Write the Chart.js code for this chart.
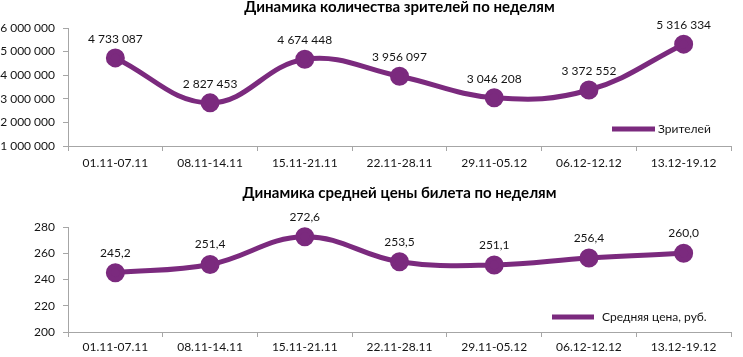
<!DOCTYPE html>
<html>
<head>
<meta charset="utf-8">
<script src="https://cdn.jsdelivr.net/npm/chart.js@4/dist/chart.umd.min.js"></script>
<style>
  html, body { margin: 0; padding: 0; background: #fff; }
  #wrap { position: relative; width: 743px; height: 357px; overflow: hidden; }
  .box { position: absolute; left: 0; width: 743px; }
  canvas { display: block; }
</style>
</head>
<body>
<div id="wrap">
  <div class="box" style="top:0;height:178px"><canvas id="c1" width="743" height="178"></canvas></div>
  <div class="box" style="top:178px;height:179px"><canvas id="c2" width="743" height="179"></canvas></div>
</div>
<script>
const categories = ['01.11-07.11', '08.11-14.11', '15.11-21.11', '22.11-28.11', '29.11-05.12', '06.12-12.12', '13.12-19.12'];
const viewers = [4733087, 2827453, 4674448, 3956097, 3046208, 3372552, 5316334];
const prices = [245.2, 251.4, 272.6, 253.5, 251.1, 256.4, 260.0];
const viewersTitle = 'Динамика количества зрителей по неделям';
const pricesTitle = 'Динамика средней цены билета по неделям';
const viewersLabel = 'Зрителей';
const pricesLabel = 'Средняя цена, руб.';

const PURPLE = '#7B2A7E';
const AXIS = '#A6A6A6';
const TEXT = '#141414';
const FONT = 'Lato, "Open Sans", "Liberation Sans", sans-serif';

Chart.defaults.font.family = FONT;
Chart.defaults.color = TEXT;

function fmtSpaces(v) {
  return Math.round(v).toString().replace(/\B(?=(\d{3})+(?!\d))/g, ' ');
}
function fmtComma(v) {
  return v.toFixed(1).replace('.', ',');
}

const valueLabels = {
  id: 'valueLabels',
  afterDatasetsDraw(chart, args, opts) {
    const ctx = chart.ctx;
    const meta = chart.getDatasetMeta(0);
    const data = chart.data.datasets[0].data;
    ctx.save();
    ctx.font = '12px ' + FONT;
    ctx.fillStyle = TEXT;
    ctx.textAlign = 'center';
    ctx.textBaseline = 'middle';
    meta.data.forEach((pt, i) => {
      ctx.fillText(opts.format(data[i]), pt.x, pt.y - opts.offset);
    });
    ctx.restore();
  }
};

const innerLegend = {
  id: 'innerLegend',
  afterDraw(chart, args, opts) {
    const ctx = chart.ctx;
    const ca = chart.chartArea;
    const ds = chart.data.datasets[0];
    const y = ca.bottom - opts.dy;
    ctx.save();
    ctx.strokeStyle = ds.borderColor;
    ctx.lineWidth = 5;
    ctx.beginPath();
    ctx.moveTo(ca.right - opts.x1, y);
    ctx.lineTo(ca.right - opts.x2, y);
    ctx.stroke();
    ctx.font = '12px ' + FONT;
    ctx.fillStyle = TEXT;
    ctx.textAlign = 'left';
    ctx.textBaseline = 'middle';
    ctx.fillText(ds.label, ca.right - opts.x2 + opts.gap, y);
    ctx.restore();
  }
};

function makeChart(id, cfg) {
  return new Chart(document.getElementById(id), {
    type: 'line',
    data: {
      labels: categories,
      datasets: [{
        label: cfg.label,
        data: cfg.data,
        borderColor: PURPLE,
        backgroundColor: PURPLE,
        pointBackgroundColor: PURPLE,
        pointBorderColor: PURPLE,
        borderWidth: 5,
        pointRadius: 7,
        pointHoverRadius: 7,
        tension: 0.4,
        fill: false,
        clip: false
      }]
    },
    options: {
      responsive: false,
      animation: false,
      devicePixelRatio: 1,
      layout: { padding: { left: 0, right: 5, top: 0, bottom: 0 } },
      plugins: {
        legend: { display: false },
        tooltip: { enabled: false },
        title: {
          display: true,
          text: cfg.title,
          fullSize: false,
          color: '#000',
          font: { size: 15, weight: 'bold', family: FONT, lineHeight: 1 },
          padding: cfg.titlePadding
        },
        valueLabels: { format: cfg.format, offset: cfg.labelOffset },
        innerLegend: cfg.legend
      },
      scales: {
        x: {
          offset: true,
          afterFit(scale) { scale.height = cfg.xHeight; },
          grid: {
            display: true,
            offset: true,
            drawOnChartArea: false,
            drawTicks: true,
            tickLength: 5,
            color: AXIS
          },
          border: { display: true, color: AXIS, width: 1 },
          ticks: {
            padding: cfg.xPad,
            font: { size: 12 },
            color: TEXT,
            maxRotation: 0,
            autoSkip: false
          }
        },
        y: {
          min: cfg.min,
          max: cfg.max,
          afterFit(scale) { scale.width = 68; },
          grid: {
            display: true,
            drawOnChartArea: false,
            drawTicks: true,
            tickLength: 5,
            color: AXIS
          },
          border: { display: true, color: AXIS, width: 1 },
          ticks: {
            stepSize: cfg.step,
            padding: 8,
            font: { size: 12 },
            color: TEXT,
            callback: (v) => cfg.tickFormat(v)
          }
        }
      }
    },
    plugins: [valueLabels, innerLegend]
  });
}

makeChart('c1', {
  label: viewersLabel,
  data: viewers,
  title: viewersTitle,
  titlePadding: { top: 0, bottom: 13 },
  min: 1000000, max: 6000000, step: 1000000,
  tickFormat: fmtSpaces,
  format: fmtSpaces,
  labelOffset: 19,
  xHeight: 32,
  xPad: 5,
  legend: { x1: 119, x2: 76, dy: 17, gap: 3 }
});

makeChart('c2', {
  label: pricesLabel,
  data: prices,
  title: pricesTitle,
  titlePadding: { top: 7.5, bottom: 26.5 },
  min: 200, max: 280, step: 20,
  tickFormat: (v) => String(v),
  format: fmtComma,
  labelOffset: 20,
  xHeight: 25,
  xPad: 2.5,
  legend: { x1: 179, x2: 137, dy: 15, gap: 8 }
});
</script>
</body>
</html>
